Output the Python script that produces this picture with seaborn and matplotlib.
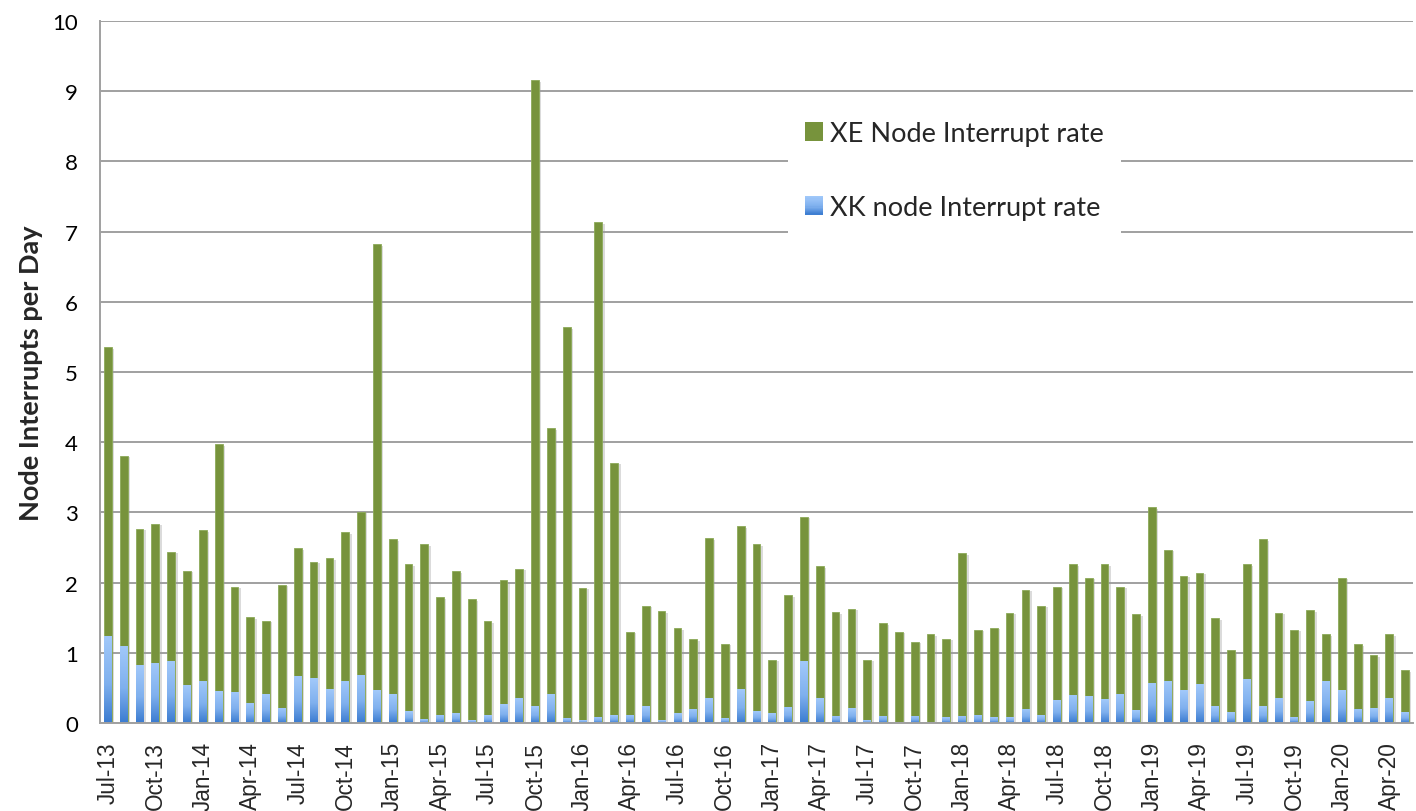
import numpy as np
import pandas as pd
import matplotlib
matplotlib.use("Agg")
import matplotlib.pyplot as plt
import matplotlib.patheffects as pe
from matplotlib.patches import Rectangle, Patch
from matplotlib.legend_handler import HandlerBase
from matplotlib.colors import LinearSegmentedColormap
import seaborn as sns

# Monthly node interrupt rates, Jul-2013 .. May-2020
months = pd.date_range("2013-07-01", "2020-05-01", freq="MS")
month_labels = [d.strftime("%b-%y") for d in months]

xe_rate = [5.35, 3.81, 2.77, 2.84, 2.44, 2.17, 2.75, 3.97, 1.94, 1.51,
           1.46, 1.97, 2.49, 2.30, 2.35, 2.72, 3.01, 6.82, 2.62, 2.26,
           2.55, 1.79, 2.16, 1.76, 1.45, 2.03, 2.20, 9.16, 4.20, 5.64,
           1.93, 7.13, 3.71, 1.30, 1.67, 1.59, 1.35, 1.19, 2.63, 1.13,
           2.80, 2.55, 0.90, 1.82, 2.94, 2.23, 1.58, 1.63, 0.90, 1.42,
           1.30, 1.16, 1.27, 1.20, 2.42, 1.33, 1.36, 1.57, 1.90, 1.67,
           1.94, 2.26, 2.07, 2.26, 1.94, 1.55, 3.07, 2.47, 2.10, 2.14,
           1.49, 1.04, 2.26, 2.62, 1.57, 1.33, 1.61, 1.27, 2.07, 1.12,
           0.97, 1.27, 0.75]

xk_rate = [1.24, 1.10, 0.82, 0.86, 0.89, 0.54, 0.60, 0.455, 0.445, 0.29,
           0.41, 0.22, 0.67, 0.64, 0.49, 0.60, 0.69, 0.47, 0.41, 0.17,
           0.05, 0.12, 0.14, 0.04, 0.11, 0.27, 0.35, 0.24, 0.41, 0.07,
           0.04, 0.08, 0.11, 0.12, 0.24, 0.04, 0.14, 0.20, 0.35, 0.07,
           0.48, 0.17, 0.14, 0.23, 0.88, 0.35, 0.10, 0.21, 0.04, 0.10,
           0.01, 0.10, 0.02, 0.08, 0.10, 0.12, 0.08, 0.08, 0.20, 0.11,
           0.33, 0.40, 0.38, 0.34, 0.42, 0.18, 0.57, 0.60, 0.47, 0.55,
           0.24, 0.15, 0.63, 0.24, 0.36, 0.085, 0.32, 0.60, 0.47, 0.20,
           0.21, 0.36, 0.15]

tick_labels = ["Jul-13", "Oct-13", "Jan-14", "Apr-14", "Jul-14", "Oct-14",
               "Jan-15", "Apr-15", "Jul-15", "Oct-15", "Jan-16", "Apr-16",
               "Jul-16", "Oct-16", "Jan-17", "Apr-17", "Jul-17", "Oct-17",
               "Jan-18", "Apr-18", "Jul-18", "Oct-18", "Jan-19", "Apr-19",
               "Jul-19", "Oct-19", "Jan-20", "Apr-20"]

y_ticks = [0, 1, 2, 3, 4, 5, 6, 7, 8, 9, 10]

GREEN = "#77933C"
GRID = "#A0A0A0"
blue_cmap = LinearSegmentedColormap.from_list(
    "xk_blue", [(0.0, "#3A7BD0"), (0.45, "#7FB0EE"), (1.0, "#A2C9FA")])

sns.set_style("white")
plt.rcParams["font.family"] = ["Lato", "DejaVu Sans"]

fig = plt.figure(figsize=(14.16, 8.12), dpi=100)
ax = fig.add_axes([100 / 1416, 88 / 812, 1313 / 1416, 702 / 812])

df = pd.DataFrame({"month": month_labels, "xe": xe_rate, "xk": xk_rate})

sns.barplot(data=df, x="month", y="xe", color=GREEN, saturation=1,
            width=0.49, errorbar=None, ax=ax, zorder=2,
            edgecolor="#8CAA58", linewidth=0.6)
n_green = len(ax.patches)
for p in ax.patches[:n_green]:
    p.set_path_effects([pe.SimplePatchShadow(offset=(1.8, -1.2),
                                             shadow_rgbFace="#9a9a9a",
                                             alpha=0.35),
                        pe.Normal()])

sns.barplot(data=df, x="month", y="xk", color="#7FB0EE", saturation=1,
            width=0.49, errorbar=None, ax=ax, zorder=3, linewidth=0)

# vertical light-to-dark fill for the XK bars
grad = np.linspace(0, 1, 256).reshape(-1, 1)
for p in ax.patches[n_green:]:
    x0, y0 = p.get_x(), p.get_y()
    w, h = p.get_width(), p.get_height()
    if h <= 0:
        continue
    im = ax.imshow(grad, cmap=blue_cmap, origin="lower", aspect="auto",
                   extent=(x0, x0 + w, y0, y0 + h), zorder=3.5,
                   interpolation="bilinear")
    im.set_clip_path(p)
    p.set_facecolor("none")

ax.set_xlim(-0.5, len(month_labels) - 0.5)
ax.set_ylim(0, 10)

# axes styling
ax.set_axisbelow(True)
ax.yaxis.grid(True, color=GRID, linewidth=1.4)
ax.xaxis.grid(False)
for side in ("top", "right"):
    ax.spines[side].set_visible(False)
for side in ("left", "bottom"):
    ax.spines[side].set_color(GRID)
    ax.spines[side].set_linewidth(1.4)
    ax.spines[side].set_zorder(4)

ax.set_yticks(y_ticks)
ax.set_yticklabels([str(v) for v in y_ticks])
ax.tick_params(axis="y", length=6, width=1.4, color=GRID, pad=10,
               labelsize=16, labelcolor="black")

label_pos = [month_labels.index(t) for t in tick_labels]
ax.set_xticks(label_pos)
ax.set_xticklabels(tick_labels, rotation=90, ha="center", va="top",
                   family=["Liberation Sans", "DejaVu Sans"], fontsize=16.3)
ax.set_xticks([p - 0.5 for p in label_pos], minor=True)
ax.tick_params(axis="x", which="major", length=0, pad=13)
ax.tick_params(axis="x", which="minor", length=6, width=1.4, color=GRID)
ax.set_xlabel("")

ax.set_ylabel("Node Interrupts per Day", fontsize=19.5, fontweight="bold")
ax.yaxis.set_label_coords(-0.0434, 0.5)


class GradientSquare(HandlerBase):
    def create_artists(self, legend, orig_handle, xdescent, ydescent,
                       width, height, fontsize, trans):
        n = 16
        parts = []
        for k in range(n):
            parts.append(Rectangle((-xdescent, -ydescent + height * k / n),
                                   width, height / n * 1.05,
                                   facecolor=blue_cmap((k + 0.5) / n),
                                   edgecolor="none", transform=trans))
        return parts


h_xe = Patch(facecolor=GREEN, edgecolor="none")
h_xk = Patch(facecolor="#7FB0EE", edgecolor="none")
leg = ax.legend([h_xe, h_xk],
                ["XE Node Interrupt rate", "XK node Interrupt rate"],
                handler_map={h_xk: GradientSquare()},
                loc="upper left",
                bbox_to_anchor=(788 / 1416, 1 - 105 / 812),
                bbox_transform=fig.transFigure,
                fontsize=19.5, frameon=True, fancybox=False,
                facecolor="white", edgecolor="none", framealpha=1,
                handlelength=0.67, handleheight=0.67, handletextpad=0.26,
                labelspacing=1.8, borderpad=0.63, borderaxespad=0)
leg.set_zorder(5)

fig.savefig("out.png", dpi=100)
